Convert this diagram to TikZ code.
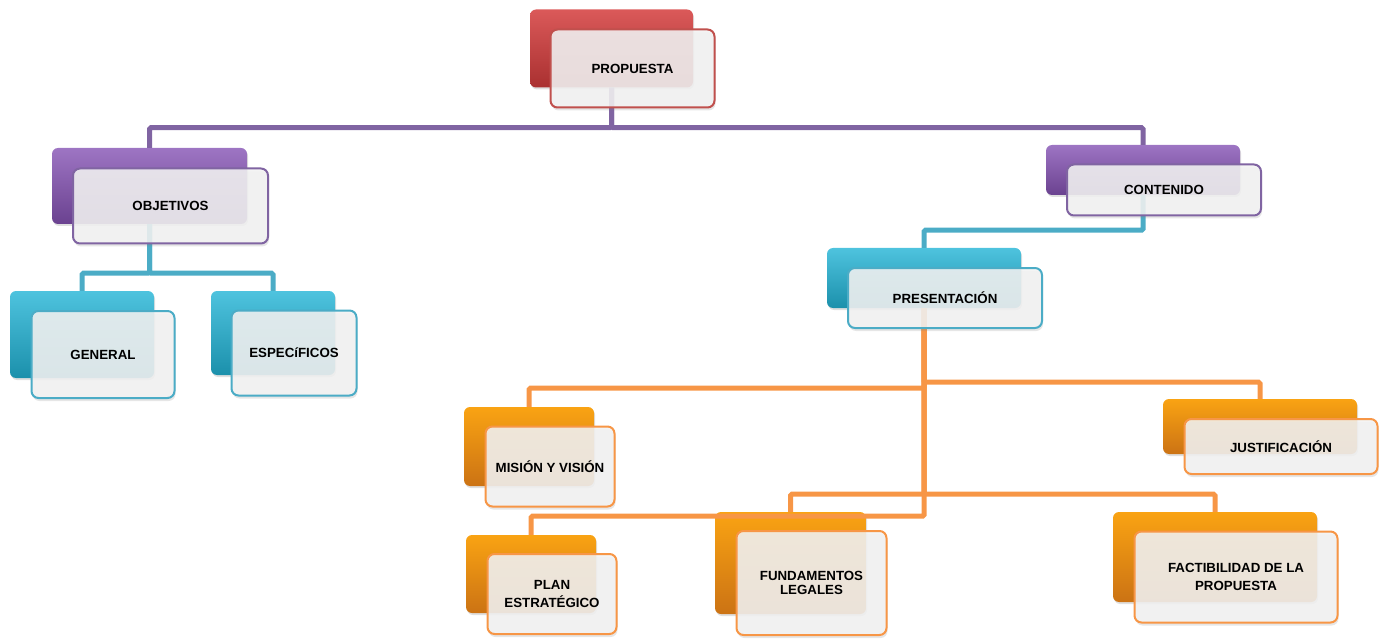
\documentclass[tikz,border=0pt]{standalone}
\usepackage{fontspec}
\setmainfont{Liberation Sans}
\usetikzlibrary{positioning, shadows}

\definecolor{redline}{HTML}{C0504D}
\definecolor{purpleline}{HTML}{8064A2}
\definecolor{tealline}{HTML}{4BACC6}
\definecolor{orangeline}{HTML}{F79646}
\definecolor{redfill}{HTML}{D43C3C}
\definecolor{purplefill}{HTML}{8552B4}
\definecolor{tealfill}{HTML}{22B4D6}
\definecolor{orangefill}{HTML}{F88C18}

\begin{document}
\begin{tikzpicture}[
    x=1pt, y=-1pt, % one unit per pixel, y grows downwards
    backbox/.style={rounded corners=6pt, inner sep=0pt, drop shadow={opacity=0.25, shadow xshift=1pt, shadow yshift=-2pt}},
    frontbox/.style={draw, line width=2pt, rounded corners=7pt, fill=white!95!black, fill opacity=0.88, text opacity=1, align=center, font=\bfseries\fontsize{13.3}{18}\selectfont, xshift=21pt, yshift=-20pt, drop shadow={opacity=0.2, shadow xshift=1pt, shadow yshift=-3pt}},
    boxsize/.style 2 args={minimum width=#1, minimum height=#2},
    redback/.style={top color=redfill!85!white, middle color=redfill, bottom color=redfill!80!black},
    purpleback/.style={top color=purplefill!80!white, middle color=purplefill, bottom color=purplefill!80!black},
    tealback/.style={top color=tealfill!80!white, middle color=tealfill, bottom color=tealfill!80!black},
    orangeback/.style={top color=orangefill!80!yellow, middle color=orangefill, bottom color=orangefill!82!black},
    link/.style={line width=5pt, rounded corners=1.5pt}
]
\useasboundingbox (0,0) rectangle (1388,644);

% Back boxes
\node (propuesta_back) [backbox, redback, boxsize={163pt}{78pt}] at (611.5,48.5) {};
\node (objetivos_back) [backbox, purpleback, boxsize={195pt}{76pt}] at (149.5,186) {};
\node (contenido_back) [backbox, purpleback, boxsize={194pt}{50pt}] at (1143,170) {};
\node (general_back) [backbox, tealback, boxsize={144pt}{87pt}] at (82,334.5) {};
\node (especificos_back) [backbox, tealback, boxsize={124pt}{84pt}] at (273,333) {};
\node (presentacion_back) [backbox, tealback, boxsize={194pt}{60pt}] at (924,278) {};
\node (mision_back) [backbox, orangeback, boxsize={130pt}{79pt}] at (529,446.5) {};
\node (justificacion_back) [backbox, orangeback, boxsize={194pt}{55pt}] at (1260,426.5) {};
\node (plan_back) [backbox, orangeback, boxsize={130pt}{78pt}] at (531,574) {};
\node (fundamentos_back) [backbox, orangeback, boxsize={151pt}{102pt}] at (790.5,563) {};
\node (factibilidad_back) [backbox, orangeback, boxsize={204pt}{90pt}] at (1215,557) {};

% Connectors
\draw[link, purpleline] (propuesta_back.south) -- ++(0,40) -| (objetivos_back.north);
\draw[link, purpleline] (propuesta_back.south) -- ++(0,40) -| (contenido_back.north);
\draw[link, tealline] (objetivos_back.south) -- ++(0,49) -| (general_back.north);
\draw[link, tealline] (objetivos_back.south) -- ++(0,49) -| (especificos_back.north);
\draw[link, tealline] (contenido_back.south) -- ++(0,35) -| (presentacion_back.north);
\draw[link, orangeline] (presentacion_back.south) -- ++(0,80) -| (mision_back.north);
\draw[link, orangeline] (presentacion_back.south) -- ++(0,74) -| (justificacion_back.north);
\draw[link, orangeline] (presentacion_back.south) -- ++(0,208) -| (plan_back.north);
\draw[link, orangeline] (presentacion_back.south) -- ++(0,186) -| (fundamentos_back.north);
\draw[link, orangeline] (presentacion_back.south) -- ++(0,186) -| (factibilidad_back.north);

% Front boxes with the labels
\node (propuesta) [frontbox, draw=redline, boxsize={164pt}{78pt}] at (propuesta_back) {PROPUESTA};
\node (objetivos) [frontbox, draw=purpleline, boxsize={195pt}{75pt}] at (objetivos_back) {OBJETIVOS};
\node (contenido) [frontbox, draw=purpleline, boxsize={194pt}{51pt}] at (contenido_back) {CONTENIDO};
\node (general) [frontbox, draw=tealline, boxsize={143pt}{87pt}] at (general_back) {GENERAL};
\node (especificos) [frontbox, draw=tealline, boxsize={125pt}{85pt}] at (especificos_back) {ESPECíFICOS};
\node (presentacion) [frontbox, draw=tealline, boxsize={194pt}{60pt}] at (presentacion_back) {PRESENTACIÓN};
\node (mision) [frontbox, draw=orangeline, boxsize={129pt}{80pt}] at (mision_back) {MISIÓN Y VISIÓN};
\node (justificacion) [frontbox, draw=orangeline, boxsize={193pt}{55pt}] at (justificacion_back) {JUSTIFICACIÓN};
\node (plan) [frontbox, draw=orangeline, boxsize={129pt}{80pt}] at (plan_back) {PLAN\\ESTRATÉGICO};
\node (fundamentos) [frontbox, draw=orangeline, boxsize={150pt}{104pt}, font=\bfseries\fontsize{13.3}{14}\selectfont] at (fundamentos_back) {FUNDAMENTOS\\LEGALES};
\node (factibilidad) [frontbox, draw=orangeline, boxsize={203pt}{91pt}] at (factibilidad_back) {FACTIBILIDAD DE LA\\PROPUESTA};

\end{tikzpicture}
\end{document}
